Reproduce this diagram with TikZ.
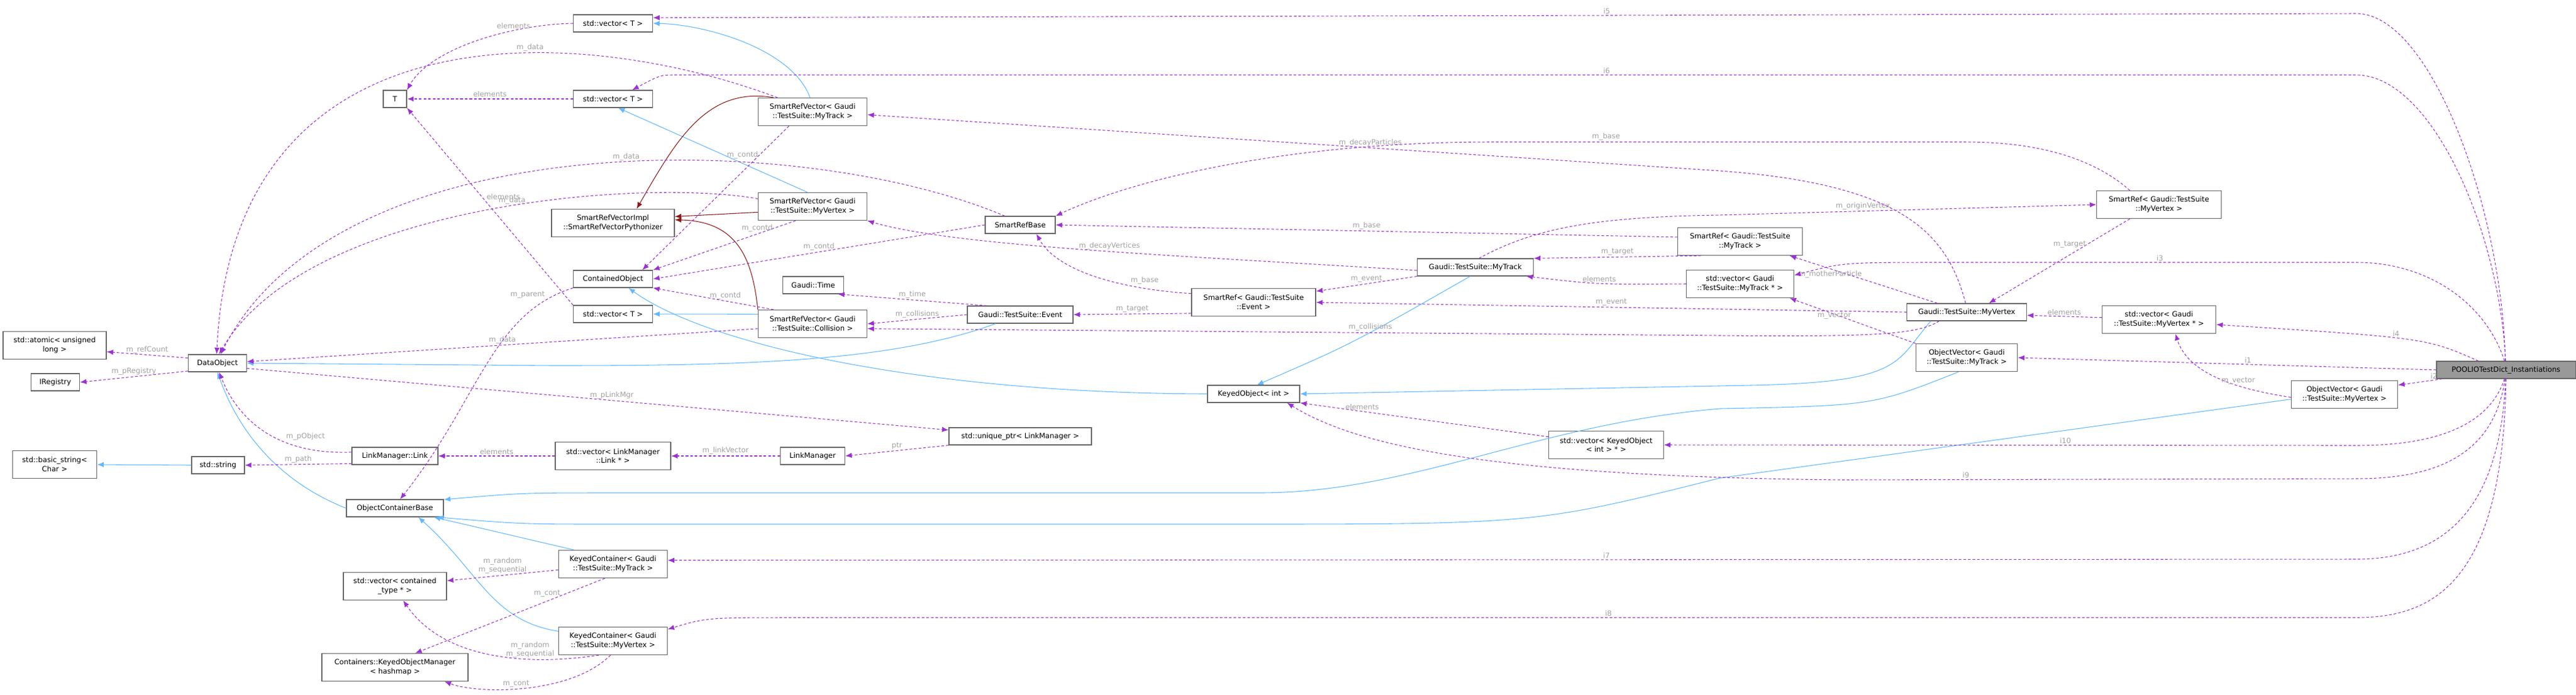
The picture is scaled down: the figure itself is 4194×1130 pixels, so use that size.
\documentclass[tikz,border=0pt]{standalone}
\usepackage{fontspec}
\usepackage{tikz}
\usetikzlibrary{arrows.meta}
\newfontfamily\boxfont{DejaVu Sans}
\definecolor{usecol}{HTML}{9A32CD}
\definecolor{inhcol}{HTML}{63B8FF}
\definecolor{tplcol}{HTML}{8B1A1A}
\definecolor{lblcol}{HTML}{A0A0A0}
\definecolor{edgecol}{HTML}{666666}
\tikzstyle{box} = [
	draw=edgecol,
	fill=white,
	line width=0.45pt,
	inner sep=1pt,
	align=center,
	minimum height=10.5pt,
	font=\boxfont\fontsize{4.4}{5.6}\selectfont
]
\tikzstyle{box2} = [box, minimum height=16.9pt]
\tikzstyle{use} = [->, usecol, dashed, line width=0.4pt, dash pattern=on 1.6pt off 1.2pt]
\tikzstyle{inh} = [->, inhcol, line width=0.4pt]
\tikzstyle{tpl} = [->, tplcol, line width=0.4pt]
\tikzstyle{lbl} = [lblcol, inner sep=0.8pt, font=\boxfont\fontsize{4.4}{5.2}\selectfont, align=center]

\begin{document}
\begin{tikzpicture}[x=0.375pt, y=-0.375pt, >={Latex[length=4pt,width=3.2pt]}]
	\useasboundingbox (0,0) rectangle (4194,1130);

	% left column
	\node[box2, minimum width=63pt] (atomic) at (89,562) {std::atomic< unsigned\\long >};
	\node[box, minimum width=29.6pt] (iReg) at (90,622) {IRegistry};
	\node[box2, minimum width=51.4pt] (basicStr) at (89,756) {std::basic\_string<\\Char >};
	\node[box, minimum width=35.6pt] (dataObj) at (354,591) {DataObject};
	\node[box, minimum width=32.3pt] (stdStr) at (355,757) {std::string};
	\node[box, minimum width=14.3pt] (T) at (643,161) {T};
	\node[box, minimum width=52.5pt] (lmLink) at (643,742) {LinkManager::Link};
	\node[box, minimum width=59.3pt] (ocBase) at (643,827) {ObjectContainerBase};
	\node[box2, minimum width=63pt] (vecCont) at (643,954) {std::vector< contained\\\_type * >};
	\node[box2, minimum width=89.3pt] (kom) at (643,1086) {Containers::KeyedObjectManager\\< hashmap >};

	% second column
	\node[box, minimum width=48.4pt] (vecTa) at (998,38) {std::vector< T >};
	\node[box, minimum width=48.4pt] (vecTb) at (998,161) {std::vector< T >};
	\node[box2, minimum width=75pt] (srvImpl) at (998,363) {SmartRefVectorImpl\\::SmartRefVectorPythonizer};
	\node[box, minimum width=48.4pt] (contObj) at (998,454) {ContainedObject};
	\node[box, minimum width=48.4pt] (vecTc) at (998,511) {std::vector< T >};
	\node[box2, minimum width=70.5pt] (vecLink) at (998,742) {std::vector< LinkManager\\::Link * >};
	\node[box2, minimum width=66.4pt] (kcTrack) at (998,918) {KeyedContainer< Gaudi\\::TestSuite::MyTrack >};
	\node[box2, minimum width=66.4pt] (kcVertex) at (998,1043) {KeyedContainer< Gaudi\\::TestSuite::MyVertex >};

	% third column
	\node[box2, minimum width=66.4pt] (srvTrack) at (1323,182) {SmartRefVector< Gaudi\\::TestSuite::MyTrack >};
	\node[box2, minimum width=66.4pt] (srvVertex) at (1323,336) {SmartRefVector< Gaudi\\::TestSuite::MyVertex >};
	\node[box, minimum width=37pt] (gTime) at (1324,464) {Gaudi::Time};
	\node[box2, minimum width=66.4pt] (srvColl) at (1323,527) {SmartRefVector< Gaudi\\::TestSuite::Collision >};
	\node[box, minimum width=39.4pt] (linkMgr) at (1323,742) {LinkManager};

	% middle
	\node[box, minimum width=42.8pt] (srBase) at (1661,366) {SmartRefBase};
	\node[box, minimum width=64.5pt] (gEvent) at (1661,512) {Gaudi::TestSuite::Event};
	\node[box, minimum width=87pt] (uniqPtr) at (1661,710) {std::unique\_ptr< LinkManager >};
	\node[box2, minimum width=75.8pt] (srEvent) at (2041,492) {SmartRef< Gaudi::TestSuite\\::Event >};
	\node[box, minimum width=56.3pt] (keyedObj) at (2041,641) {KeyedObject< int >};
	\node[box, minimum width=70.9pt] (gTrack) at (2402,435) {Gaudi::TestSuite::MyTrack};
	\node[box2, minimum width=70pt] (vecKeyed) at (2615,724) {std::vector< KeyedObject\\< int > * >};

	% right part
	\node[box2, minimum width=76pt] (srTrack) at (2833,393) {SmartRef< Gaudi::TestSuite\\::MyTrack >};
	\node[box2, minimum width=65.6pt] (vecTrackP) at (2833,462) {std::vector< Gaudi\\::TestSuite::MyTrack * >};
	\node[box, minimum width=73pt] (gVertex) at (3202,508) {Gaudi::TestSuite::MyVertex};
	\node[box2, minimum width=62pt] (ovTrack) at (3202,582) {ObjectVector< Gaudi\\::TestSuite::MyTrack >};
	\node[box2, minimum width=76pt] (srVertex) at (3515,333) {SmartRef< Gaudi::TestSuite\\::MyVertex >};
	\node[box2, minimum width=69.4pt] (vecVertexP) at (3515,520) {std::vector< Gaudi\\::TestSuite::MyVertex * >};
	\node[box2, minimum width=65pt] (ovVertex) at (3817,642) {ObjectVector< Gaudi\\::TestSuite::MyVertex >};
	\node[box, minimum width=84.8pt, fill=black!40] (pool) at (4080,602) {POOLIOTestDict\_Instantiations};

	% inheritance
	\draw[inh] (srvTrack.100) .. controls (1290,80) and (1150,40) .. (vecTa.east);
	\draw[inh] (srvVertex.110) -- (vecTb.-60);
	\draw[inh] (srvColl.170) -- (vecTc.east);
	\draw[inh] (keyedObj.west) .. controls (1500,640) and (1150,560) .. (contObj.-30);
	\draw[inh] (gTrack.240) .. controls (2200,560) .. (keyedObj.70);
	\draw[inh] (gVertex.194) .. controls (3085,590) and (3100,622) .. (2850,627) -- (keyedObj.east);
	\draw[inh] (gEvent.200) .. controls (1450,590) and (1200,595) .. (900,595) -- (dataObj.east);
	\draw[inh] (ocBase.west) .. controls (470,790) and (395,720) .. (dataObj.south);
	\draw[inh] (stdStr.west) -- (basicStr.east);
	\draw[inh] (ovTrack.240) .. controls (3050,660) .. (2800,665) .. controls (2500,690) and (2300,802) .. (2050,802) -- (1000,802) .. controls (850,802) .. (ocBase.10);
	\draw[inh] (ovVertex.185) -- (2800,778) .. controls (2500,853) .. (2000,853) -- (1000,853) .. controls (850,853) .. (ocBase.-12);
	\draw[inh] (kcTrack.160) -- (ocBase.-13);
	\draw[inh] (kcVertex.170) .. controls (800,1010) and (780,930) .. (ocBase.-21);

	% template instances
	\draw[tpl] (srvTrack.160) .. controls (1150,140) and (1100,230) .. (srvImpl.31);
	\draw[tpl] (srvVertex.186) -- (srvImpl.6);
	\draw[tpl] (srvColl.north west) .. controls (1225,420) and (1200,360) .. (srvImpl.3);

	% usage
	\draw[use] (vecTa.west) .. controls (830,40) and (700,80) .. node[lbl,pos=.3,above]{elements} (T.north east);
	\draw[use, line width=0.8pt] (vecTb.west) -- node[lbl,above]{elements} (T.east);
	\draw[use] (vecTc.north west) -- node[lbl,pos=.55,right=2pt]{elements} (T.south east);
	\draw[use] (srvTrack.158) .. controls (950,40) and (380,0) .. node[lbl,pos=.36,above]{m\_data} (dataObj.95);
	\draw[use] (srvVertex.172) .. controls (1050,290) and (500,330) .. node[lbl,pos=.45,above]{m\_data} (dataObj.80);
	\draw[use] (srBase.150) .. controls (1300,210) and (550,200) .. node[lbl,pos=.45,above]{m\_data} (dataObj.70);
	\draw[use] (srvColl.185) -- node[lbl,above]{m\_data} (dataObj.3);
	\draw[use] (srvTrack.211) -- node[lbl,pos=.2,left]{m\_contd} (contObj.17);
	\draw[use] (srvVertex.220) -- node[lbl,pos=.15,left]{m\_contd} (contObj.north east);
	\draw[use] (srBase.west) -- node[lbl,pos=.5,above]{m\_contd} (contObj.east);
	\draw[use] (srvColl.160) -- node[lbl,pos=.4,above]{m\_contd} (contObj.south east);
	\draw[use] (contObj.south west) .. controls (800,510) and (780,650) .. node[lbl,pos=.12,above left]{m\_parent} (ocBase.60);
	\draw[use] (dataObj.170) -- node[lbl,above]{m\_refCount} (atomic.-7);
	\draw[use] (dataObj.195) -- node[lbl,above]{m\_pRegistry} (iReg.east);
	\draw[use] (dataObj.-10) -- node[lbl,pos=.52,above]{m\_pLinkMgr} (uniqPtr.175);
	\draw[use] (lmLink.175) .. controls (470,740) and (395,700) .. node[lbl,pos=.4,above right]{m\_pObject} (dataObj.-80);
	\draw[use] (lmLink.190) -- node[lbl,above]{m\_path} (stdStr.east);
	\draw[use] (vecLink.west) -- node[lbl,above]{elements} (lmLink.east);
	\draw[use] (linkMgr.west) -- node[lbl,above]{m\_linkVector} (vecLink.east);
	\draw[use] (uniqPtr.south west) -- node[lbl,above]{ptr} (linkMgr.east);
	\draw[use] (kcTrack.186) -- node[lbl,above]{m\_random\\m\_sequential} (vecCont.6);
	\draw[use] (kcTrack.240) -- node[lbl,pos=.2,left=3pt]{m\_cont} (kom.35);
	\draw[use] (kcVertex.225) .. controls (850,1085) and (720,1070) .. node[lbl,pos=.3,above]{m\_random\\m\_sequential} (vecCont.-60);
	\draw[use] (kcVertex.260) .. controls (930,1130) and (780,1130) .. node[lbl,pos=.55,above]{m\_cont} (kom.-16);
	\draw[use] (gEvent.165) -- node[lbl,above]{m\_time} (gTime.-20);
	\draw[use] (gEvent.west) -- node[lbl,above]{m\_collisions} (srvColl.east);
	\draw[use] (srEvent.190) -- node[lbl,above]{m\_target} (gEvent.east);
	\draw[use] (srEvent.172) .. controls (1820,470) and (1720,440) .. node[lbl,pos=.3,above right]{m\_base} (srBase.-29);
	\draw[use] (gTrack.south west) -- node[lbl,above]{m\_event} (srEvent.10);
	\draw[use] (gTrack.183) .. controls (1900,415) and (1550,400) .. node[lbl,pos=.45,above]{m\_decayVertices} (srvVertex.south east);
	\draw[use] (gTrack.68) .. controls (2500,370) and (2600,353) .. (2800,350) -- node[lbl,pos=.38,above]{m\_originVertex} (srVertex.west);
	\draw[use] (srTrack.176) -- node[lbl,above]{m\_base} (srBase.east);
	\draw[use] (srTrack.200) -- node[lbl,above]{m\_target} (gTrack.north east);
	\draw[use] (vecTrackP.west) .. controls (2600,463) .. node[lbl,pos=.5,above]{elements} (gTrack.-10);
	\draw[use] (srVertex.154) .. controls (3400,250) and (3300,231) .. (3200,231) -- node[lbl,pos=.76,above]{m\_base} (2430,231) .. controls (2100,231) and (1850,290) .. (srBase.north east);
	\draw[use] (srVertex.206) -- node[lbl,pos=.3,left]{m\_target} (gVertex.22.5);
	\draw[use] (gVertex.97) .. controls (3170,380) and (3100,300) .. (2800,278) -- node[lbl,pos=.41,above]{m\_decayParticles} (srvTrack.-3);
	\draw[use] (gVertex.163) -- node[lbl,pos=.5,above left]{m\_motherParticle} (srTrack.-16);
	\draw[use] (gVertex.west) -- node[lbl,pos=.5,above]{m\_event} (srEvent.east);
	\draw[use] (gVertex.198) .. controls (3120,545) and (3050,548) .. (2800,546) -- node[lbl,pos=.41,above]{m\_collisions} (srvColl.-5);
	\draw[use] (vecVertexP.178) -- node[lbl,above]{elements} (gVertex.-3);
	\draw[use] (ovTrack.north west) -- node[lbl,pos=.5,above left]{m\_vector} (vecTrackP.-16);
	\draw[use] (ovVertex.183) .. controls (3620,630) and (3560,600) .. node[lbl,pos=.3,above]{m\_vector} (vecVertexP.-41);
	\draw[use] (vecKeyed.172) -- node[lbl,pos=.75,above]{elements} (keyedObj.south east);

	% instantiations
	\draw[use] (pool.west) -- node[lbl,pos=.45,above]{i1} (ovTrack.east);
	\draw[use] (pool.188) -- node[lbl,pos=.3,above right]{i2} (ovVertex.10);
	\draw[use] (pool.100) .. controls (4050,500) and (3960,427) .. (3836,427) -- node[lbl,pos=.48,above]{i3} (3170,427) .. controls (3000,427) .. (vecTrackP.9);
	\draw[use] (pool.162) .. controls (3950,550) .. node[lbl,pos=.55,above]{i4} (vecVertexP.-5);
	\draw[use] (pool.95) .. controls (4075,350) and (3960,22) .. (3836,22) -- node[lbl,pos=.44,above]{i5} (vecTa.8);
	\draw[use] (pool.93) .. controls (4070,380) and (3960,122) .. (3836,122) -- node[lbl,pos=.446,above]{i6} (1100,122) .. controls (1075,122) .. (vecTb.25);
	\draw[use] (pool.-93) .. controls (4070,850) and (3960,910) .. (3836,910) -- node[lbl,pos=.444,above]{i7} (kcTrack.4);
	\draw[use] (pool.-90) .. controls (4075,950) and (3960,1005) .. (3836,1005) -- node[lbl,pos=.48,above]{i8} (1300,1005) .. controls (1150,1005) .. (kcVertex.12);
	\draw[use] (pool.-97) .. controls (4060,750) and (3950,779) .. (3836,779) -- node[lbl,pos=.76,above]{i9} (3000,781) .. controls (2400,775) and (2200,720) .. (keyedObj.-15);
	\draw[use] (pool.-100) .. controls (4050,700) and (3950,725) .. (3836,725) -- node[lbl,pos=.42,above]{i10} (vecKeyed.east);

\end{tikzpicture}
\end{document}
